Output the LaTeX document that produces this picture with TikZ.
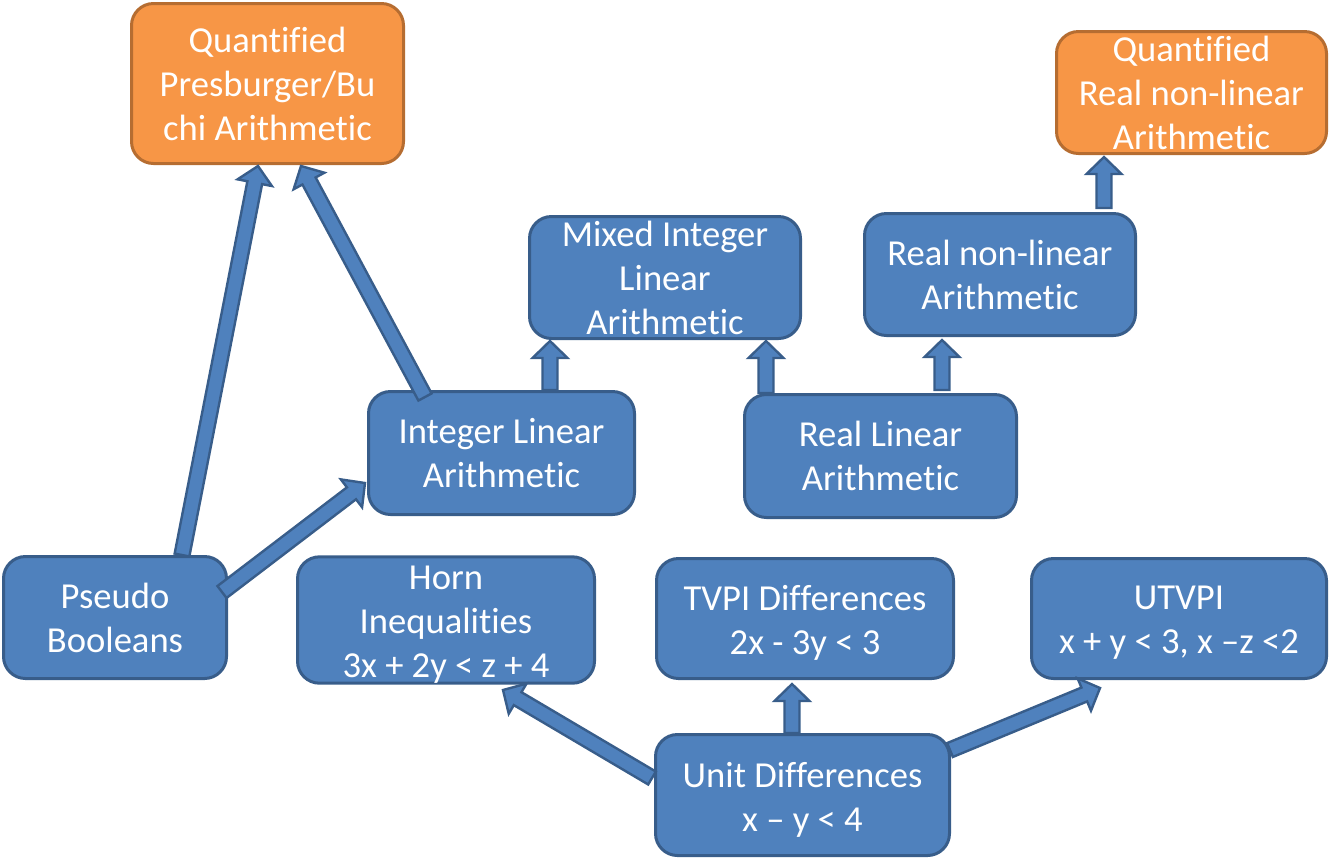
\documentclass[tikz,border=0pt]{standalone}
\usepackage{fontspec}
\setmainfont{Carlito}[Ligatures={NoCommon,NoContextual}]
\usetikzlibrary{calc}
\definecolor{bfill}{HTML}{4F81BD}
\definecolor{bline}{HTML}{385D8A}
\definecolor{ofill}{HTML}{F79646}
\definecolor{oline}{HTML}{B66D31}
\newcommand\bx[7]{%
  \node[#1, minimum width={(#5-#3)*0.5pt-1.5pt}, minimum height={(#6-#4)*0.5pt-1.5pt}]
    (#2) at ({(#3+#5)/2},{(#4+#6)/2}) {#7};}
\newcommand\lowtxt[1]{\parbox{140pt}{\centering\vspace*{4.5pt}#1}}
\newcommand\blockarrow[2]{%
  \path ($(#2)!8.5pt!(#1)$) coordinate (hbase);
  \draw[arr] ($(#1)!3.75pt!90:(#2)$) -- ($(hbase)!3.75pt!90:(#2)$) -- ($(hbase)!8.75pt!90:(#2)$) -- (#2)
    -- ($(hbase)!8.75pt!-90:(#2)$) -- ($(hbase)!3.75pt!-90:(#2)$) -- ($(#1)!3.75pt!-90:(#2)$) -- cycle;}
\begin{document}
\begin{tikzpicture}[x=0.5pt,y=-0.5pt,
  base/.style={rounded corners=11pt, line width=1.5pt, text=white, align=center, inner sep=0pt,
    font=\fontsize{18.3}{22}\selectfont},
  bluebox/.style={base, fill=bfill, draw=bline},
  orangebox/.style={base, fill=ofill, draw=oline},
  arr/.style={fill=bfill, draw=bline, line width=1.2pt, line join=miter}]
\useasboundingbox (0,0) rectangle (1332,864);
\bx{orangebox}{qp}{130}{2}{405}{165}{Quantified\\Presburger/Bu\\chi Arithmetic}
\bx{orangebox}{qr}{1055}{30}{1328}{155}{Quantified\\Real non-linear\\Arithmetic}
\bx{bluebox}{mila}{528}{215}{802}{340}{Mixed Integer\\Linear\\Arithmetic}
\bx{bluebox}{rnl}{863}{212}{1137}{337}{Real non-linear\\Arithmetic}
\bx{bluebox}{ila}{367}{390}{636}{516}{Integer Linear\\Arithmetic}
\bx{bluebox}{rla}{743}{393}{1018}{519}{Real Linear\\Arithmetic}
\bx{bluebox}{pb}{2}{555}{228}{680}{Pseudo\\Booleans}
\bx{bluebox}{horn}{296}{557}{596}{683}{\lowtxt{Horn\\Inequalities\\3x + 2y < z + 4}}
\bx{bluebox}{tvpi}{655}{557}{955}{680}{\lowtxt{TVPI Differences\\2x - 3y < 3}}
\bx{bluebox}{utvpi}{1030}{557}{1328}{680}{\lowtxt{UTVPI\\x + y < 3, x –z <2}}
\bx{bluebox}{ud}{654}{733}{951}{857}{\lowtxt{Unit Differences\\x – y < 4}}
% arrow end points
\coordinate (t1) at (182,555); \coordinate (h1) at (258,166);
\coordinate (t2) at (425,397); \coordinate (h2) at (301,166);
\coordinate (t3) at (222,592); \coordinate (h3) at (365,483);
\coordinate (t4) at (550,390); \coordinate (h4) at (550,341);
\coordinate (t5) at (766,393); \coordinate (h5) at (766,341);
\coordinate (t6) at (942,390); \coordinate (h6) at (942,340);
\coordinate (t7) at (1104,208); \coordinate (h7) at (1104,157);
\coordinate (t8) at (652,778); \coordinate (h8) at (503,690);
\coordinate (t9) at (792,733); \coordinate (h9) at (792,684);
\coordinate (t10) at (950,750); \coordinate (h10) at (1100,688);
\blockarrow{t1}{h1}
\blockarrow{t2}{h2}
\blockarrow{t3}{h3}
\blockarrow{t4}{h4}
\blockarrow{t5}{h5}
\blockarrow{t6}{h6}
\blockarrow{t7}{h7}
\blockarrow{t8}{h8}
\blockarrow{t9}{h9}
\blockarrow{t10}{h10}
\end{tikzpicture}
\end{document}
